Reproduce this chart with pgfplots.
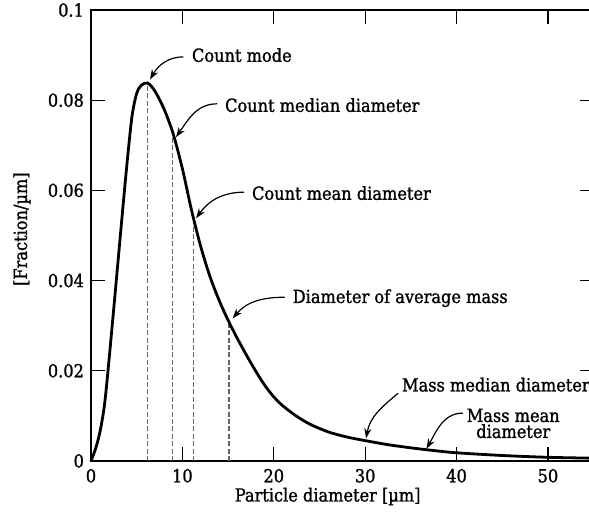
\documentclass[border=0pt]{standalone}
\usepackage{fontspec}
\setmainfont[RawFeature={embolden=1.2}]{DejaVu Serif Condensed}
\usepackage{pgfplots}
\pgfplotsset{compat=1.18}
\usetikzlibrary{arrows.meta}

\begin{document}
\begin{tikzpicture}[font=\fontsize{9}{10}\selectfont]
\begin{axis}[
  scale only axis, width=251.4pt, height=225.5pt,
  xmin=0, xmax=55, ymin=0, ymax=0.1,
  xtick={0,10,20,30,40,50}, xticklabels={0,10,20,30,40,50},
  ytick={0,0.02,0.04,0.06,0.08,0.1}, yticklabels={0,0.02,0.04,0.06,0.08,0.1},
  tick align=inside, major tick length=7pt,
  tick style={line width=0.6pt, black},
  axis line style={line width=1pt},
  ticklabel style={font=\fontsize{9}{10}\selectfont},
  xticklabel style={yshift=-0.5pt},
  clip=false,
]
\addplot[black!60, line width=0.6pt, dash pattern=on 2.5pt off 1.2pt] coordinates {(6.16,0) (6.16,0.0838)};
\addplot[black!60, line width=0.6pt, dash pattern=on 2.5pt off 1.2pt] coordinates {(8.9,0) (8.9,0.0730)};
\addplot[black!60, line width=0.6pt, dash pattern=on 2.5pt off 1.2pt] coordinates {(11.2,0) (11.2,0.0535)};
\addplot[black!60, line width=0.6pt, dash pattern=on 2.5pt off 1.2pt] coordinates {(15.1,0) (15.1,0.0310)};

\addplot[black, line width=1.4pt, smooth, tension=0.5] coordinates {
(0,0) (0.5,0.0027) (1.0,0.0066) (1.5,0.0128) (2.0,0.0230) (2.5,0.0340)
(3.0,0.0452) (3.5,0.0564) (4.0,0.0672) (4.5,0.0766) (5.0,0.0815)
(5.5,0.0833) (6.2,0.0838) (7,0.0820) (8,0.0780) (9,0.0725)
(10,0.0648) (11,0.0556) (12,0.0476) (13,0.0410) (14,0.0357)
(15,0.0312) (16,0.0272) (17,0.0235) (18,0.0200) (19,0.0168)
(20,0.0142) (21,0.0122) (22.5,0.0099) (24,0.0081) (26,0.0064)
(28,0.0053) (30,0.0045) (32.5,0.0036) (35,0.0029) (37.5,0.0023)
(40,0.0018) (45,0.0012) (50,0.0008) (55,0.0006)};

\node[anchor=west] at (axis cs:10.28,0.0900) {Count mode};
\node[anchor=west] at (axis cs:13.9,0.0789) {Count median diameter};
\node[anchor=west] at (axis cs:16.85,0.0594) {Count mean diameter};
\node[anchor=west] at (axis cs:21.3,0.0361) {Diameter of average mass};
\node[anchor=west] at (axis cs:33.26,0.0169) {Mass median diameter};
\node[align=center, inner sep=0pt] at (axis cs:46.2,0.0083) {Mass mean\\[-2pt]diameter};

\begin{scope}[line width=0.6pt]
\draw[-{Stealth[length=5pt,width=3.5pt]}] (axis cs:10.1,0.0896) to[out=180,in=60] (axis cs:6.46,0.0846);
\draw[-{Stealth[length=5pt,width=3.5pt]}] (axis cs:13.8,0.0792) to[out=180,in=55] (axis cs:9.3,0.0718);
\draw[-{Stealth[length=5pt,width=3.5pt]}] (axis cs:16.75,0.0596) to[out=180,in=55] (axis cs:11.5,0.0538);
\draw[-{Stealth[length=5pt,width=3.5pt]}] (axis cs:21.2,0.0363) to[out=180,in=50] (axis cs:15.5,0.0316);
\draw[-{Stealth[length=5pt,width=3.5pt]}] (axis cs:33.6,0.0150) to[out=220,in=80] (axis cs:30.1,0.0050);
\draw[-{Stealth[length=5pt,width=3.5pt]}] (axis cs:40.7,0.0106) to[out=180,in=60] (axis cs:36.7,0.0027);
\end{scope}

\node[rotate=90] at (axis cs:-7.55,0.0514) {[Fraction/µm]};
\node at (axis cs:25.9,-0.0079) {Particle diameter [µm]};

\coordinate (bbA) at (axis cs:-9.956,-0.01153);
\coordinate (bbB) at (axis cs:54.49,0.10222);
\end{axis}
\pgfresetboundingbox
\path[use as bounding box] (bbA) rectangle (bbB);
\end{tikzpicture}
\end{document}
